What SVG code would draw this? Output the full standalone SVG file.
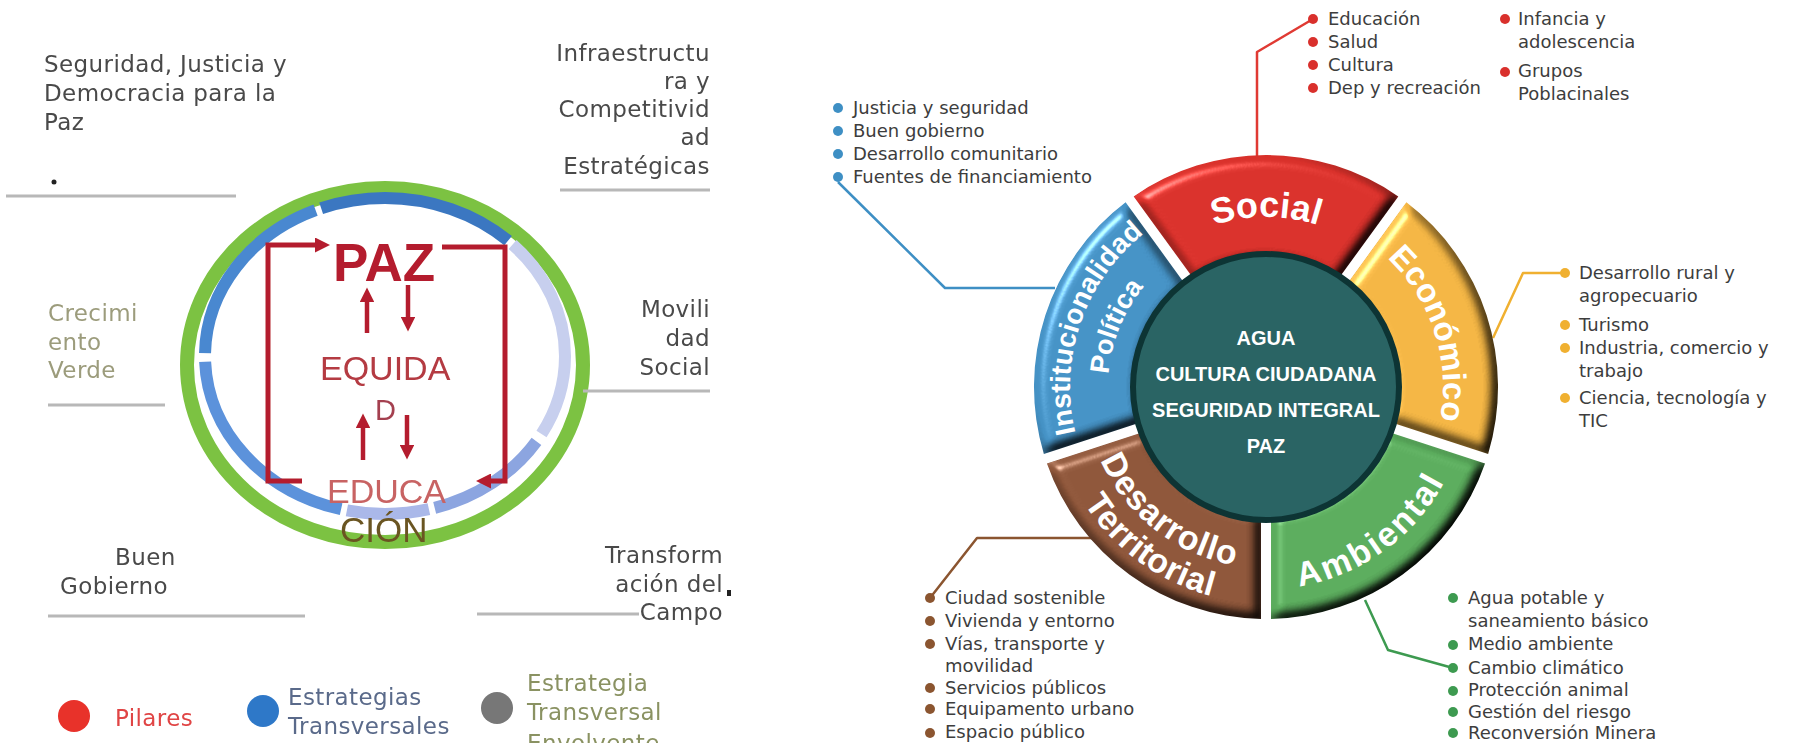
<svg xmlns="http://www.w3.org/2000/svg" width="1804" height="743" viewBox="0 0 1804 743">
<defs>
<style>
.lbl{font-family:"DejaVu Sans","Liberation Sans",sans-serif;font-size:23px;letter-spacing:0.4px;fill:#4a4a4a}
.li{font-family:"DejaVu Sans","Liberation Sans",sans-serif;font-size:18px;fill:#3d3d3d}
.seg{font-family:"Liberation Sans",Arial,sans-serif;font-weight:bold;fill:#fff;text-anchor:middle}
.ctr{font-family:"Liberation Sans",Arial,sans-serif;font-weight:bold;font-size:20px;fill:#fff;text-anchor:middle}
.conn{fill:none;stroke-width:2.5;stroke-linejoin:round}
.ring{fill:none;stroke-width:12}
.ul{stroke:#b8b8b8;stroke-width:3}
.red{stroke:#b41f2d;fill:none}
</style>
<marker id="ah" viewBox="0 0 10 10" refX="2" refY="5" markerWidth="3" markerHeight="3" orient="auto" markerUnits="strokeWidth"><path d="M0,0 L10,5 L0,10 z" fill="#b41f2d"/></marker>
<marker id="ah2" viewBox="0 0 10 10" refX="2" refY="5" markerWidth="3.2" markerHeight="3.2" orient="auto" markerUnits="strokeWidth"><path d="M0,0 L10,5 L0,10 z" fill="#b41f2d"/></marker>
<filter id="bevel" x="-10%" y="-10%" width="120%" height="120%" color-interpolation-filters="sRGB">
<feGaussianBlur in="SourceAlpha" stdDeviation="6" result="b"/>
<feDiffuseLighting in="b" surfaceScale="9" diffuseConstant="1.22" lighting-color="#fff" result="d"><feDistantLight azimuth="225" elevation="55"/></feDiffuseLighting>
<feComposite in="SourceGraphic" in2="d" operator="arithmetic" k1="1" k2="0" k3="0" k4="0" result="lit"/>
<feSpecularLighting in="b" surfaceScale="9" specularConstant="0.5" specularExponent="30" lighting-color="#fff" result="s"><feDistantLight azimuth="225" elevation="35"/></feSpecularLighting>
<feComposite in="s" in2="SourceAlpha" operator="in" result="s2"/>
<feComposite in="lit" in2="s2" operator="arithmetic" k1="0" k2="1" k3="1" k4="0"/>
</filter>
<filter id="soft"><feGaussianBlur stdDeviation="0.7"/></filter>
<path id="pSocial" d="M1106.25,328.86 A170,170 0 0 1 1425.75,328.86"/>
<path id="pEcon" d="M1272.18,210.11 A177,177 0 0 1 1374.97,526.48"/>
<path id="pAmb" d="M1153.04,554.47 A202,202 0 0 0 1460.17,331.32"/>
<path id="pDes" d="M1093.86,331.07 A181,181 0 0 0 1361.92,540.50"/>
<path id="pTer" d="M1058.37,327.46 A216,216 0 0 0 1386.79,566.07"/>
<path id="pInst" d="M1142.65,539.32 A196,196 0 0 1 1262.58,191.03"/>
<path id="pPol" d="M1160.28,504.42 A158,158 0 0 1 1271.51,229.10"/>
</defs>
<rect width="1804" height="743" fill="#fff"/>

<!-- LEFT DIAGRAM -->
<g id="left" filter="url(#soft)">
<g id="rings">
<ellipse cx="385" cy="365" rx="198" ry="177" fill="none" stroke="#7cc242" stroke-width="14"/>
<g class="ring">
<ellipse cx="385" cy="356" rx="180" ry="158" pathLength="360" stroke="#c7cfee" stroke-dasharray="43 400" stroke-dashoffset="-317"/>
<ellipse cx="385" cy="356" rx="180" ry="158" pathLength="360" stroke="#c7cfee" stroke-dasharray="28 400" stroke-dashoffset="0"/>
<ellipse cx="385" cy="356" rx="180" ry="158" pathLength="360" stroke="#8ca5e0" stroke-dasharray="42 400" stroke-dashoffset="-31"/>
<ellipse cx="385" cy="356" rx="180" ry="158" pathLength="360" stroke="#aab8e9" stroke-dasharray="28 400" stroke-dashoffset="-75"/>
<ellipse cx="385" cy="356" rx="180" ry="158" pathLength="360" stroke="#5c92db" stroke-dasharray="73 400" stroke-dashoffset="-105"/>
<ellipse cx="385" cy="356" rx="180" ry="158" pathLength="360" stroke="#4a88d0" stroke-dasharray="65 400" stroke-dashoffset="-181"/>
<ellipse cx="385" cy="356" rx="180" ry="158" pathLength="360" stroke="#3b77c1" stroke-dasharray="67 400" stroke-dashoffset="-248"/>
</g>
</g>
<g id="core">
<path class="red" stroke-width="5" d="M302,481 L268,481 L268,245 L318,245" marker-end="url(#ah)"/>
<path class="red" stroke-width="5" d="M442,247 L505,247 L505,481 L488,481" marker-end="url(#ah)"/>
<g class="red" stroke-width="4.5">
<path d="M367,333 L367,299" marker-end="url(#ah2)"/>
<path d="M408,285 L408,320" marker-end="url(#ah2)"/>
<path d="M363,460 L363,425" marker-end="url(#ah2)"/>
<path d="M407,415 L407,448" marker-end="url(#ah2)"/>
</g>
<text x="333" y="281" font-family="Liberation Sans, Arial, sans-serif" font-weight="bold" font-size="53" fill="#b41f2d">PAZ</text>
<text x="320" y="380" font-family="Liberation Sans, Arial, sans-serif" font-size="34" fill="#b43a42">EQUIDA</text>
<text x="375" y="420" font-family="Liberation Sans, Arial, sans-serif" font-size="29" fill="#a44050">D</text>
<text x="327" y="503" font-family="Liberation Sans, Arial, sans-serif" font-size="34" fill="#c86464">EDUCA</text>
<text x="340" y="542" font-family="Liberation Sans, Arial, sans-serif" font-size="35" fill="#6b5522">CIÓN</text>
</g>
<g id="labels">
<text class="lbl" x="44" y="72">Seguridad, Justicia y</text>
<text class="lbl" x="44" y="101">Democracia para la</text>
<text class="lbl" x="44" y="130">Paz</text>
<circle cx="54" cy="182" r="2.5" fill="#222"/>
<line class="ul" x1="6" y1="196" x2="236" y2="196" stroke-width="2"/>
<g text-anchor="end">
<text class="lbl" x="710" y="61">Infraestructu</text>
<text class="lbl" x="710" y="89">ra y</text>
<text class="lbl" x="710" y="117">Competitivid</text>
<text class="lbl" x="710" y="145">ad</text>
<text class="lbl" x="710" y="174">Estratégicas</text>
</g>
<line class="ul" x1="560" y1="190" x2="710" y2="190" stroke-width="4" stroke="#c8c8c8"/>
<text class="lbl" x="48" y="321" style="fill:#9c9c7c">Crecimi</text>
<text class="lbl" x="48" y="350" style="fill:#9c9c7c">ento</text>
<text class="lbl" x="48" y="378" style="fill:#9c9c7c">Verde</text>
<line class="ul" x1="48" y1="405" x2="165" y2="405" stroke-width="2"/>
<g text-anchor="end">
<text class="lbl" x="710" y="317">Movili</text>
<text class="lbl" x="710" y="346">dad</text>
<text class="lbl" x="710" y="375">Social</text>
</g>
<line class="ul" x1="583" y1="391" x2="710" y2="391"/>
<text class="lbl" x="115" y="565">Buen</text>
<text class="lbl" x="60" y="594">Gobierno</text>
<line class="ul" x1="48" y1="616" x2="305" y2="616"/>
<g text-anchor="end">
<text class="lbl" x="723" y="563">Transform</text>
<text class="lbl" x="723" y="592">ación del</text>
<text class="lbl" x="723" y="620">Campo</text>
</g>
<line class="ul" x1="477" y1="614" x2="639" y2="614"/>
<rect x="727" y="590" width="4" height="6" fill="#222"/>
</g>
<g id="legend">
<circle cx="74" cy="716" r="16" fill="#e8302a"/>
<text class="lbl" x="115" y="726" style="fill:#e04444">Pilares</text>
<circle cx="263" cy="711" r="16" fill="#2f78c8"/>
<text class="lbl" x="288" y="705" style="fill:#5a6a8a">Estrategias</text>
<text class="lbl" x="288" y="734" style="fill:#5a6a8a">Transversales</text>
<circle cx="497" cy="708" r="16" fill="#777"/>
<text class="lbl" x="527" y="691" style="fill:#8a9262">Estrategia</text>
<text class="lbl" x="527" y="720" style="fill:#8a9262">Transversal</text>
<text class="lbl" x="527" y="751" style="fill:#8a9262">Envolvente</text>
</g>
</g>

<!-- RIGHT DIAGRAM -->
<g id="connectors" class="conn">
<path d="M838,182 L945,288 L1055,288" stroke="#3e8fc4"/>
<path d="M1313,19 L1257,52 L1257,156" stroke="#e03a33"/>
<path d="M1565,273 L1523,273 L1493,338" stroke="#f0b030"/>
<path d="M930,598 L977,538 L1093,538" stroke="#8b5530"/>
<path d="M1365,600 L1388,650 L1453,668" stroke="#3d9a50"/>
</g>

<g id="wheel">
<g filter="url(#bevel)">
<path id="seg-social" d="M1133.70,196.41 A232,232 0 0 1 1398.29,196.41 L1335.36,283.01 A125,125 0 0 0 1196.63,283.01 Z" fill="#d8302a"/>
<path id="seg-econ" d="M1406.38,202.29 A232,232 0 0 1 1488.15,453.92 L1386.33,420.84 A125,125 0 0 0 1343.45,288.89 Z" fill="#f2b443"/>
<path id="seg-amb" d="M1485.05,463.43 A232,232 0 0 1 1271,618.95 L1271,511.9 A125,125 0 0 0 1383.24,430.35 Z" fill="#5aab5c"/>
<path id="seg-des" d="M1261,618.95 A232,232 0 0 1 1046.95,463.43 L1148.76,430.35 A125,125 0 0 0 1261,511.9 Z" fill="#8d5539"/>
<path id="seg-inst" d="M1043.85,453.92 A232,232 0 0 1 1125.61,202.29 L1188.54,288.89 A125,125 0 0 0 1145.66,420.84 Z" fill="#4491c4"/>
</g>
<g id="seg-labels">
<text class="seg" font-size="36"><textPath href="#pSocial" startOffset="50%">Social</textPath></text>
<text class="seg" font-size="33"><textPath href="#pEcon" startOffset="50%">Económico</textPath></text>
<text class="seg" font-size="34" letter-spacing="2.5"><textPath href="#pAmb" startOffset="50%">Ambiental</textPath></text>
<text class="seg" font-size="34" letter-spacing="1"><textPath href="#pDes" startOffset="50%">Desarrollo</textPath></text>
<text class="seg" font-size="34" letter-spacing="0.5"><textPath href="#pTer" startOffset="50%">Territorial</textPath></text>
<text class="seg" font-size="28"><textPath href="#pInst" startOffset="50%">Institucionalidad</textPath></text>
<text class="seg" font-size="27"><textPath href="#pPol" startOffset="50%">Política</textPath></text>
</g>
<g id="center">
<circle cx="1266" cy="387" r="133" fill="#2a6464" stroke="#0d3434" stroke-width="6"/>
<text class="ctr" x="1266" y="345">AGUA</text>
<text class="ctr" x="1266" y="381">CULTURA CIUDADANA</text>
<text class="ctr" x="1266" y="417">SEGURIDAD INTEGRAL</text>
<text class="ctr" x="1266" y="453">PAZ</text>
</g>
</g>

<g id="list-inst" fill="#3e8fc4">
<circle cx="838" cy="108" r="5"/><circle cx="838" cy="131" r="5"/><circle cx="838" cy="154" r="5"/><circle cx="838" cy="177" r="5"/>
<text class="li" x="853" y="114">Justicia y seguridad</text>
<text class="li" x="853" y="137">Buen gobierno</text>
<text class="li" x="853" y="160">Desarrollo comunitario</text>
<text class="li" x="853" y="183">Fuentes de financiamiento</text>
</g>
<g id="list-social" fill="#d9302c">
<circle cx="1313" cy="19" r="5"/><circle cx="1313" cy="42" r="5"/><circle cx="1313" cy="65" r="5"/><circle cx="1313" cy="88" r="5"/>
<text class="li" x="1328" y="25">Educación</text>
<text class="li" x="1328" y="48">Salud</text>
<text class="li" x="1328" y="71">Cultura</text>
<text class="li" x="1328" y="94">Dep y recreación</text>
<circle cx="1505" cy="19" r="5"/><circle cx="1505" cy="72" r="5"/>
<text class="li" x="1518" y="25">Infancia y</text>
<text class="li" x="1518" y="48">adolescencia</text>
<text class="li" x="1518" y="77">Grupos</text>
<text class="li" x="1518" y="100">Poblacinales</text>
</g>
<g id="list-econ" fill="#f0b030">
<circle cx="1565" cy="273" r="5"/><circle cx="1565" cy="325" r="5"/><circle cx="1565" cy="348" r="5"/><circle cx="1565" cy="398" r="5"/>
<text class="li" x="1579" y="279">Desarrollo rural y</text>
<text class="li" x="1579" y="302">agropecuario</text>
<text class="li" x="1579" y="331">Turismo</text>
<text class="li" x="1579" y="354">Industria, comercio y</text>
<text class="li" x="1579" y="377">trabajo</text>
<text class="li" x="1579" y="404">Ciencia, tecnología y</text>
<text class="li" x="1579" y="427">TIC</text>
</g>
<g id="list-des" fill="#8b5530">
<circle cx="930" cy="598" r="5"/><circle cx="930" cy="621" r="5"/><circle cx="930" cy="644" r="5"/><circle cx="930" cy="688" r="5"/><circle cx="930" cy="709" r="5"/><circle cx="930" cy="733" r="5"/>
<text class="li" x="945" y="604">Ciudad sostenible</text>
<text class="li" x="945" y="627">Vivienda y entorno</text>
<text class="li" x="945" y="650">Vías, transporte y</text>
<text class="li" x="945" y="672">movilidad</text>
<text class="li" x="945" y="694">Servicios públicos</text>
<text class="li" x="945" y="715">Equipamento urbano</text>
<text class="li" x="945" y="738">Espacio público</text>
</g>
<g id="list-amb" fill="#3d9a50">
<circle cx="1453" cy="598" r="5"/><circle cx="1453" cy="645" r="5"/><circle cx="1453" cy="668" r="5"/><circle cx="1453" cy="691" r="5"/><circle cx="1453" cy="712" r="5"/><circle cx="1453" cy="733" r="5"/>
<text class="li" x="1468" y="604">Agua potable y</text>
<text class="li" x="1468" y="627">saneamiento básico</text>
<text class="li" x="1468" y="650">Medio ambiente</text>
<text class="li" x="1468" y="674">Cambio climático</text>
<text class="li" x="1468" y="696">Protección animal</text>
<text class="li" x="1468" y="718">Gestión del riesgo</text>
<text class="li" x="1468" y="739">Reconversión Minera</text>
</g>
</svg>
